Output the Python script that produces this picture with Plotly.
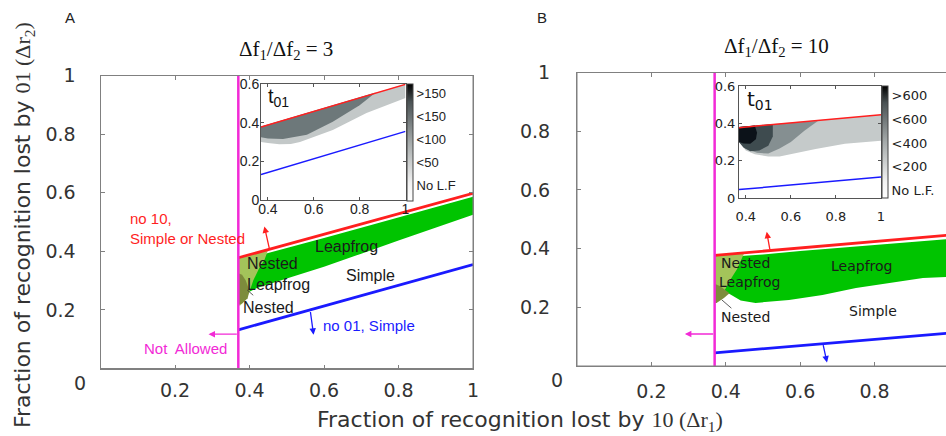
import plotly.graph_objects as go

W, H = 946, 436

# ---------------- data ----------------
sep_x = [0.37, 0.37]
sep_y = [0.0, 1.0]
line_x = [0.37, 1.0]

# Panel A  (df1/df2 = 3)
red_A = [0.378, 0.598]
blue_A = [0.132, 0.355]
green_A_x = [0.37, 0.5, 0.6, 0.7, 0.8, 0.9, 1.0, 1.0, 0.9, 0.8, 0.7, 0.6, 0.5, 0.45, 0.42, 0.40, 0.37]
green_A_y = [0.367, 0.41, 0.445, 0.48, 0.515, 0.55, 0.586, 0.525, 0.482, 0.437, 0.392, 0.347, 0.307, 0.288, 0.275, 0.262, 0.24]
olive_A_x = [0.37, 0.45, 0.44, 0.425, 0.41, 0.40, 0.39, 0.375, 0.37]
olive_A_y = [0.378, 0.405, 0.37, 0.34, 0.30, 0.262, 0.235, 0.215, 0.215]
dolive_A_x = [0.37, 0.38, 0.39, 0.40, 0.395, 0.38, 0.37]
dolive_A_y = [0.325, 0.32, 0.30, 0.265, 0.24, 0.222, 0.218]

# inset A (t01)
gray1_A_x = [0.37, 1.0, 1.0, 0.83, 0.683, 0.54, 0.5, 0.45, 0.40, 0.37]
gray1_A_y = [0.38, 0.6, 0.528, 0.45, 0.362, 0.30, 0.29, 0.288, 0.295, 0.30]
gray2_A_x = [0.37, 0.87, 0.80, 0.683, 0.57, 0.466, 0.40, 0.37]
gray2_A_y = [0.38, 0.556, 0.49, 0.405, 0.338, 0.315, 0.318, 0.325]
cb_text_A = ['No L.F', '<50', '<100', '<150', '>150']
cb_vals_A = [0, 1, 2, 3, 4]

# Panel B  (df1/df2 = 10)
red_B = [0.377, 0.446]
blue_B = [0.045, 0.112]
green_B_x = [0.37, 0.5, 0.6, 0.7, 0.8, 0.9, 1.0, 1.0, 0.93, 0.84, 0.75, 0.66, 0.57, 0.48, 0.44, 0.40, 0.37]
green_B_y = [0.369, 0.38, 0.392, 0.402, 0.412, 0.422, 0.433, 0.304, 0.30, 0.283, 0.266, 0.242, 0.225, 0.215, 0.223, 0.253, 0.24]
olive_B_x = [0.37, 0.45, 0.43, 0.41, 0.40, 0.385, 0.375, 0.37]
olive_B_y = [0.377, 0.386, 0.33, 0.29, 0.265, 0.235, 0.215, 0.215]
dolive_B_x = [0.37, 0.385, 0.41, 0.395, 0.375, 0.37]
dolive_B_y = [0.28, 0.272, 0.248, 0.232, 0.215, 0.215]

# inset B (t01)
g200_B_x = [0.37, 1.0, 1.0, 0.84, 0.71, 0.6, 0.55, 0.5, 0.44, 0.40, 0.37]
g200_B_y = [0.38, 0.446, 0.307, 0.29, 0.262, 0.235, 0.222, 0.222, 0.235, 0.255, 0.30]
g400_B_x = [0.37, 0.72, 0.66, 0.60, 0.55, 0.50, 0.45, 0.40, 0.37]
g400_B_y = [0.38, 0.413, 0.36, 0.30, 0.265, 0.238, 0.242, 0.262, 0.30]
g600_B_x = [0.37, 0.52, 0.52, 0.50, 0.46, 0.42, 0.39, 0.37]
g600_B_y = [0.38, 0.396, 0.33, 0.28, 0.255, 0.25, 0.27, 0.30]
gblk_B_x = [0.37, 0.44, 0.45, 0.445, 0.42, 0.39, 0.37]
gblk_B_y = [0.38, 0.388, 0.35, 0.315, 0.29, 0.292, 0.30]
cb_text_B = ['No L.F.', '<200', '<400', '<600', '>600']
cb_vals_B = [0, 1, 2, 3, 4]

main_ticks = [0.2, 0.4, 0.6, 0.8, 1.0]
main_ticktext = ['0.2', '0.4', '0.6', '0.8', '1']
inset_xt = [0.4, 0.6, 0.8, 1.0]
inset_xtt = ['0.4', '0.6', '0.8', '1']
inset_yt = [0, 0.2, 0.4, 0.6]
inset_ytt = ['0', '0.2', '0.4', '0.6']

# ---------------- styles ----------------
RED = '#ff1f1f'
BLUE = '#1a1aff'
MAG = '#f22ad6'
GREEN = '#00c400'
OLIVE = '#a3c45a'
DOLIVE = '#7d8c3c'
FRAME = '#808080'
SANS = 'DejaVu Sans'
ARIAL = 'Liberation Sans'
SERIF = 'Liberation Serif'


def px(x):
    return x / W


def py(y):
    return 1 - y / H


fig = go.Figure()


def poly(xs, ys, color, xa, ya):
    fig.add_trace(go.Scatter(x=xs, y=ys, fill='toself', fillcolor=color, mode='lines',
                             line=dict(width=0, color=color), xaxis=xa, yaxis=ya,
                             hoverinfo='skip', showlegend=False))


def line(xs, ys, color, width, xa, ya):
    fig.add_trace(go.Scatter(x=xs, y=ys, mode='lines', line=dict(color=color, width=width),
                             xaxis=xa, yaxis=ya, hoverinfo='skip', showlegend=False))


# main A
poly(green_A_x, green_A_y, GREEN, 'x', 'y')
poly(olive_A_x, olive_A_y, OLIVE, 'x', 'y')
poly(dolive_A_x, dolive_A_y, DOLIVE, 'x', 'y')
line(line_x, red_A, RED, 2.8, 'x', 'y')
line(line_x, blue_A, BLUE, 2.8, 'x', 'y')
line(sep_x, sep_y, MAG, 2.5, 'x', 'y')

# main B
poly(green_B_x, green_B_y, GREEN, 'x2', 'y2')
poly(olive_B_x, olive_B_y, OLIVE, 'x2', 'y2')
poly(dolive_B_x, dolive_B_y, DOLIVE, 'x2', 'y2')
line(line_x, red_B, RED, 2.8, 'x2', 'y2')
line(line_x, blue_B, BLUE, 2.8, 'x2', 'y2')
line(sep_x, sep_y, MAG, 2.5, 'x2', 'y2')

# inset A
poly(gray1_A_x, gray1_A_y, '#c3c8c8', 'x3', 'y3')
poly(gray2_A_x, gray2_A_y, '#6d787a', 'x3', 'y3')
line(line_x, red_A, RED, 1.5, 'x3', 'y3')
line(line_x, blue_A, BLUE, 1.5, 'x3', 'y3')

# inset B
poly(g200_B_x, g200_B_y, '#c5caca', 'x4', 'y4')
poly(g400_B_x, g400_B_y, '#858f91', 'x4', 'y4')
poly(g600_B_x, g600_B_y, '#3e4b4f', 'x4', 'y4')
poly(gblk_B_x, gblk_B_y, '#0c1219', 'x4', 'y4')
line(line_x, red_B, RED, 1.5, 'x4', 'y4')
line(line_x, blue_B, BLUE, 1.5, 'x4', 'y4')

# colorbars
cscale = [[0, '#ffffff'], [0.15, '#f2f2f2'], [0.5, '#a5aaaa'], [0.85, '#4a5254'], [1, '#000000']]


def cbar(vals, texts, xa, ya, xleft, ytop, ybot, cmin, cmax, family):
    fig.add_trace(go.Scatter(
        x=[None], y=[None], mode='markers', xaxis=xa, yaxis=ya, showlegend=False, hoverinfo='skip',
        marker=dict(color=[vals[0]], cmin=cmin, cmax=cmax, colorscale=cscale, showscale=True,
                    colorbar=dict(x=px(xleft), xanchor='left', xpad=0, y=py((ytop + ybot) / 2),
                                  yanchor='middle', ypad=0, len=ybot - ytop, lenmode='pixels',
                                  thickness=6, outlinewidth=1, outlinecolor='#444',
                                  tickvals=vals, ticktext=texts, ticks='',
                                  tickfont=dict(family=family, size=13, color='#222')))))


cbar(cb_vals_A, cb_text_A, 'x3', 'y3', 407, 84, 201, -0.7, 4.4, ARIAL)
cbar(cb_vals_B, cb_text_B, 'x4', 'y4', 882, 86, 198, -0.34, 4.42, SANS)

main_ax = dict(showline=True, linecolor=FRAME, linewidth=1, ticks='inside', ticklen=4,
               tickcolor=FRAME, showgrid=False, zeroline=False,
               tickfont=dict(family=SANS, size=19, color='#333'), fixedrange=True)

inset_common = dict(showline=True, linecolor='#555', mirror='ticks', ticks='inside', ticklen=3,
                    tickcolor='#555', showgrid=False, zeroline=False)

fig.update_layout(
    width=W, height=H, margin=dict(l=0, r=0, t=0, b=0, autoexpand=False),
    paper_bgcolor='white', plot_bgcolor='white',
    xaxis=dict(domain=[px(100.5), px(473)], range=[0, 1], tickvals=main_ticks, ticktext=main_ticktext,
               mirror='ticks', anchor='y', ticklabelstandoff=5, **main_ax),
    yaxis=dict(domain=[py(368.5), py(75.5)], range=[0, 1], tickvals=main_ticks, ticktext=main_ticktext,
               mirror='ticks', anchor='x', ticklabelstandoff=20, **main_ax),
    xaxis2=dict(domain=[px(577), 1.0], range=[0, (946 - 577) / 372], tickvals=main_ticks,
                ticktext=main_ticktext, mirror='ticks', anchor='y2', ticklabelstandoff=8, **main_ax),
    yaxis2=dict(domain=[py(366), py(72.5)], range=[0, 1], tickvals=main_ticks, ticktext=main_ticktext,
                mirror=False, anchor='x2', ticklabelstandoff=22, **main_ax),
    xaxis3=dict(domain=[px(261), px(405.5)], range=[0.37, 1], anchor='y3', tickvals=inset_xt,
                ticktext=inset_xtt, ticklabelstandoff=-4,
                tickfont=dict(family=ARIAL, size=14, color='#222'), **inset_common),
    yaxis3=dict(domain=[py(200), py(84)], range=[0, 0.6], anchor='x3', tickvals=inset_yt,
                ticktext=inset_ytt, ticklabelstandoff=-2,
                tickfont=dict(family=ARIAL, size=14, color='#222'), **inset_common),
    xaxis4=dict(domain=[px(739), px(881)], range=[0.37, 1], anchor='y4', tickvals=inset_xt,
                ticktext=inset_xtt, ticklabelstandoff=6,
                tickfont=dict(family=SANS, size=13, color='#222'), **inset_common),
    yaxis4=dict(domain=[py(198), py(86)], range=[0, 0.6], anchor='x4', tickvals=inset_yt,
                ticktext=inset_ytt, ticklabelstandoff=0,
                tickfont=dict(family=SANS, size=13, color='#222'), **inset_common),
    shapes=[
        dict(type='rect', xref='x domain', yref='y domain', x0=0, x1=1, y0=0, y1=1,
             line=dict(color=FRAME, width=1), layer='above'),
        dict(type='rect', xref='x2 domain', yref='y2 domain', x0=0, x1=1.02, y0=0, y1=1,
             line=dict(color=FRAME, width=1), layer='above'),
    ],
)

ann = []


def text(x, y, s, xr, yr, size, color, family, xanchor='center', align='center'):
    ann.append(dict(x=x, y=y, xref=xr, yref=yr, text=s, showarrow=False, xanchor=xanchor,
                    yanchor='middle', align=align, font=dict(family=family, size=size, color=color)))


def arrow(tip, tail, xr, yr, color, head=2, width=1.3):
    ann.append(dict(x=tip[0], y=tip[1], ax=tail[0], ay=tail[1], xref=xr, yref=yr, axref=xr, ayref=yr,
                    text='', showarrow=True, arrowhead=head, arrowsize=1, arrowwidth=width,
                    arrowcolor=color))


# panel letters / titles
text(px(70), py(18), 'A', 'paper', 'paper', 15, '#222', ARIAL)
text(px(542), py(17), 'B', 'paper', 'paper', 15, '#222', ARIAL)
text(px(286), py(50), 'Δf<sub>1</sub>/Δf<sub>2</sub> = 3', 'paper', 'paper', 21, '#111', SERIF)
text(px(776), py(47), 'Δf<sub>1</sub>/Δf<sub>2</sub> = 10', 'paper', 'paper', 21, '#111', SERIF)

# axis titles
ann.append(dict(x=px(520), y=py(421), xref='paper', yref='paper', showarrow=False,
                text="Fraction of recognition lost by <span style='font-family:Liberation Serif'>10 (Δr<sub>1</sub>)</span>",
                font=dict(family=SANS, size=22, color='#333'), xanchor='center', yanchor='middle'))
ann.append(dict(x=px(24), y=py(225), xref='paper', yref='paper', showarrow=False, textangle=-90,
                text="Fraction of recognition lost by <span style='font-family:Liberation Serif'>01 (Δr<sub>2</sub>)</span>",
                font=dict(family=SANS, size=22, color='#333'), xanchor='center', yanchor='middle'))

# corner zeros and clipped "1"
text(px(80), py(383), '0', 'paper', 'paper', 19, '#333', SANS)
text(px(557), py(380), '0', 'paper', 'paper', 19, '#333', SANS)
text(px(951), py(387), '1', 'paper', 'paper', 19, '#333', SANS)

# panel A labels
text(0.074, 0.478, 'no 10,<br>Simple or Nested', 'x', 'y', 15, RED, ARIAL, 'left', 'left')
text(0.591, 0.147, 'no 01, Simple', 'x', 'y', 15, BLUE, ARIAL, 'left', 'left')
text(0.229, 0.068, 'Not\u00a0 Allowed', 'x', 'y', 15, MAG, ARIAL)
text(0.661, 0.418, 'Leapfrog', 'x', 'y', 16, '#1a1a1a', ARIAL)
text(0.725, 0.318, 'Simple', 'x', 'y', 16, '#1a1a1a', ARIAL)
text(0.462, 0.36, 'Nested', 'x', 'y', 16, '#1a1a1a', ARIAL)
text(0.479, 0.288, 'Leapfrog', 'x', 'y', 16, '#1a1a1a', ARIAL)
text(0.452, 0.209, 'Nested', 'x', 'y', 16, '#1a1a1a', ARIAL)
arrow((0.44, 0.485), (0.455, 0.40), 'x', 'y', RED)
arrow((0.572, 0.115), (0.563, 0.198), 'x', 'y', BLUE)
arrow((0.29, 0.117), (0.37, 0.117), 'x', 'y', MAG)
arrow((0.41, 0.25), (0.39, 0.272), 'x', 'y', '#333', head=0, width=0.8)

# panel B labels
text(0.452, 0.352, 'Nested', 'x2', 'y2', 14, '#1a1a1a', SANS)
text(0.465, 0.287, 'Leapfrog', 'x2', 'y2', 14, '#1a1a1a', SANS)
text(0.766, 0.341, 'Leapfrog', 'x2', 'y2', 14, '#1a1a1a', SANS)
text(0.452, 0.167, 'Nested', 'x2', 'y2', 14, '#1a1a1a', SANS)
text(0.796, 0.188, 'Simple', 'x2', 'y2', 14, '#1a1a1a', SANS)
arrow((0.51, 0.457), (0.519, 0.393), 'x2', 'y2', RED)
arrow((0.672, 0.012), (0.661, 0.076), 'x2', 'y2', BLUE)
arrow((0.29, 0.109), (0.37, 0.109), 'x2', 'y2', MAG)
arrow((0.415, 0.197), (0.385, 0.23), 'x2', 'y2', '#333', head=0, width=0.8)

# inset labels
text(0.39, 0.528, 't<sub>01</sub>', 'x3', 'y3', 20, '#111', ARIAL, 'left', 'left')
text(0.395, 0.525, 't<sub>01</sub>', 'x4', 'y4', 20, '#111', SANS, 'left', 'left')

fig.update_layout(annotations=ann)
fig.write_html('out.html')
